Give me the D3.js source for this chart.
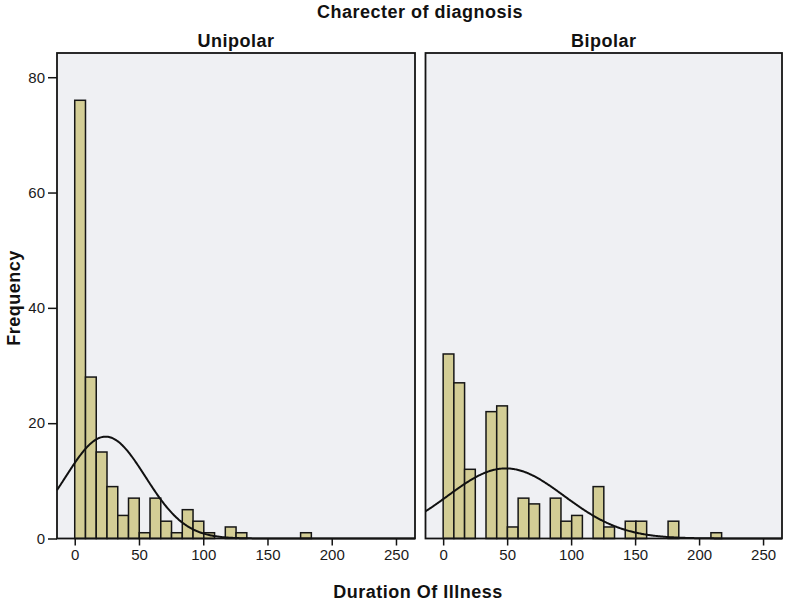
<!DOCTYPE html>
<html>
<head>
<meta charset="utf-8">
<script src="https://cdn.jsdelivr.net/npm/d3@7"></script>
<style>
  html, body { margin: 0; padding: 0; background: #ffffff; }
  svg { display: block; }
  text { font-family: Arial, "Liberation Sans", sans-serif; }
</style>
</head>
<body>
<svg id="chart" width="786" height="604"></svg>
<script>
// ---- data ----
const panels = ["Unipolar", "Bipolar"];
const binWidth = 8.37;               // width of each histogram bin (Duration Of Illness)
const unipolarCounts = [76, 28, 15, 9, 4, 7, 1, 7, 3, 1, 5, 3, 1, 0, 2, 1, 0, 0, 0, 0, 0, 1];
const bipolarCounts  = [32, 27, 12, 0, 22, 23, 2, 7, 6, 0, 7, 3, 4, 0, 9, 2, 0, 3, 3, 0, 0, 3, 0, 0, 0, 1];
// fitted normal curve parameters per panel: [mean, sd, N]
const unipolarNormal = [24, 31, 164];
const bipolarNormal  = [49, 45.6, 166];
const xTicks = [0, 50, 100, 150, 200, 250];
const yTicks = [0, 20, 40, 60, 80];
const chartTitle = "Charecter of diagnosis";
const xTitle = "Duration Of Illness";
const yTitle = "Frequency";

// ---- layout ----
const svg = d3.select("#chart");
const plotTop = 53, plotBottom = 538.5;
const panelX = [[57, 415], [425.5, 782]];
const xDomain = [-13.8, 264.8];
const y = d3.scaleLinear().domain([0, 84.2]).range([plotBottom, plotTop]);

const countsList = [unipolarCounts, bipolarCounts];
const normalList = [unipolarNormal, bipolarNormal];

const fontBold = "bold 18px Arial, 'Liberation Sans', sans-serif";
const spacing = "0.5px";

svg.append("text")
  .attr("x", 420).attr("y", 18)
  .attr("text-anchor", "middle")
  .style("font", fontBold).style("letter-spacing", spacing)
  .attr("fill", "#111")
  .text(chartTitle);

panels.forEach((name, i) => {
  const [x0, x1] = panelX[i];
  const x = d3.scaleLinear().domain(xDomain).range([x0, x1]);
  const g = svg.append("g");

  // panel background
  g.append("rect").attr("x", x0).attr("y", plotTop)
    .attr("width", x1 - x0).attr("height", plotBottom - plotTop)
    .attr("fill", "#eff0f3");

  // bars
  const bins = countsList[i].map((c, k) => ({ x0: k * binWidth, x1: (k + 1) * binWidth, c }))
    .filter(d => d.c > 0);
  g.selectAll("rect.bar").data(bins).enter().append("rect")
    .attr("class", "bar")
    .attr("x", d => x(d.x0))
    .attr("y", d => y(d.c))
    .attr("width", d => x(d.x1) - x(d.x0))
    .attr("height", d => y(0) - y(d.c))
    .attr("fill", "#d3cd95")
    .attr("stroke", "#161616")
    .attr("stroke-width", 1.5);

  // normal curve
  const [mu, sd, n] = normalList[i];
  const pts = d3.range(0, 401).map(k => {
    const v = xDomain[0] + (xDomain[1] - xDomain[0]) * k / 400;
    const f = n * binWidth / (sd * Math.sqrt(2 * Math.PI)) * Math.exp(-((v - mu) ** 2) / (2 * sd * sd));
    return [v, f];
  });
  g.append("path")
    .attr("d", d3.line().x(d => x(d[0])).y(d => y(d[1]))(pts))
    .attr("fill", "none").attr("stroke", "#111").attr("stroke-width", 2);

  // frame
  g.append("rect").attr("x", x0).attr("y", plotTop)
    .attr("width", x1 - x0).attr("height", plotBottom - plotTop)
    .attr("fill", "none").attr("stroke", "#141414").attr("stroke-width", 1.8);

  // x axis
  const xAxis = d3.axisBottom(x).tickValues(xTicks).tickSize(7).tickPadding(4)
    .tickFormat(d3.format("d"));
  const ax = g.append("g").attr("transform", `translate(0,${plotBottom})`).call(xAxis);
  ax.select(".domain").remove();
  ax.selectAll(".tick line").attr("stroke", "#141414").attr("stroke-width", 1.5);
  ax.selectAll(".tick text").style("font", "15px Arial, 'Liberation Sans', sans-serif").attr("fill", "#1a1a1a");

  // panel title
  g.append("text")
    .attr("x", (x0 + x1) / 2).attr("y", 47)
    .attr("text-anchor", "middle")
    .style("font", fontBold).style("letter-spacing", spacing)
    .attr("fill", "#111")
    .text(name);

  // y axis on the first panel
  if (i === 0) {
    const yAxis = d3.axisLeft(y).tickValues(yTicks).tickSize(9).tickPadding(3)
      .tickFormat(d3.format("d"));
    const ay = g.append("g").attr("transform", `translate(${x0},0)`).call(yAxis);
    ay.select(".domain").remove();
    ay.selectAll(".tick line").attr("stroke", "#141414").attr("stroke-width", 1.5);
    ay.selectAll(".tick text").style("font", "15px Arial, 'Liberation Sans', sans-serif").attr("fill", "#1a1a1a");
  }
});

svg.append("text")
  .attr("transform", "translate(20,298) rotate(-90)")
  .attr("text-anchor", "middle")
  .style("font", fontBold).style("letter-spacing", spacing)
  .attr("fill", "#111")
  .text(yTitle);

svg.append("text")
  .attr("x", 418).attr("y", 598)
  .attr("text-anchor", "middle")
  .style("font", fontBold).style("letter-spacing", spacing)
  .attr("fill", "#111")
  .text(xTitle);
</script>
</body>
</html>
